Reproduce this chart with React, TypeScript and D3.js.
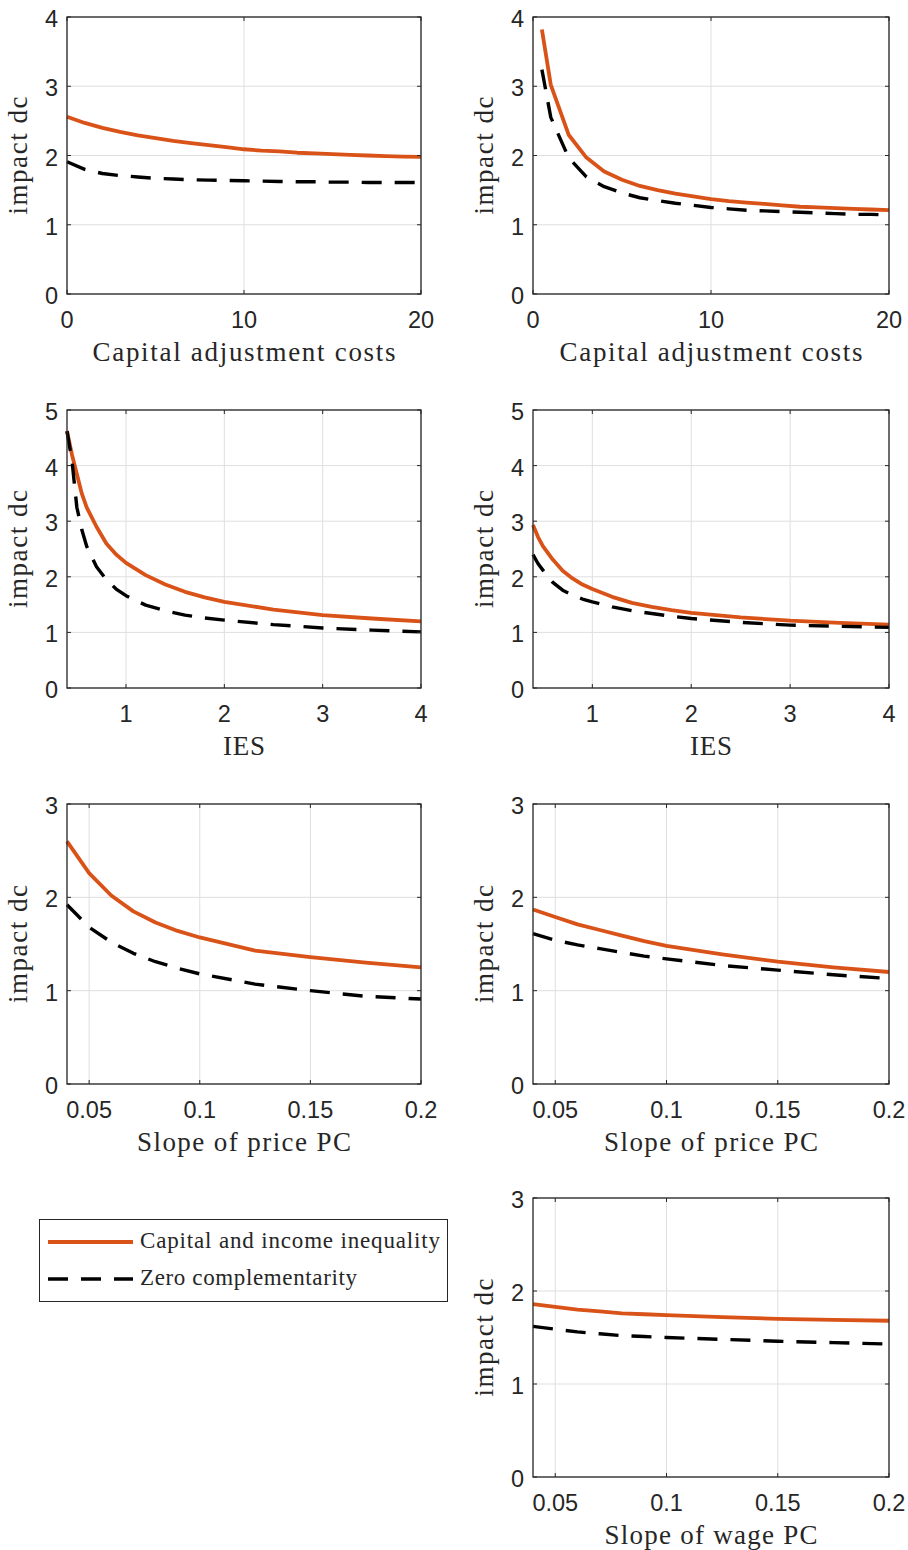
import React, { useEffect, useRef } from "react";
import * as d3 from "d3";

// x grids
const adjCostX = [0, 1, 2, 3, 4, 5, 6, 7, 8, 9, 10, 11, 12, 13, 14, 15, 16, 17, 18, 19, 20];
const adjCostX2 = [0.5, 1, 2, 3, 4, 5, 6, 7, 8, 9, 10, 11, 12, 13, 14, 15, 16, 17, 18, 19, 20];
const iesX = [0.4, 0.45, 0.5, 0.55, 0.6, 0.7, 0.8, 0.9, 1.0, 1.2, 1.4, 1.6, 1.8, 2.0, 2.5, 3.0, 3.5, 4.0];
const slopeX = [0.04, 0.05, 0.06, 0.07, 0.08, 0.09, 0.1, 0.125, 0.15, 0.175, 0.2];

// series: capital and income inequality (orange) / zero complementarity (dashed)
const adjIneqA = [2.56, 2.47, 2.4, 2.34, 2.29, 2.25, 2.21, 2.18, 2.15, 2.12, 2.09, 2.07, 2.06, 2.04, 2.03, 2.02, 2.01, 2.0, 1.99, 1.985, 1.98];
const adjZeroA = [1.91, 1.8, 1.74, 1.71, 1.69, 1.67, 1.66, 1.65, 1.645, 1.64, 1.635, 1.63, 1.625, 1.62, 1.62, 1.615, 1.615, 1.61, 1.61, 1.61, 1.61];
const adjIneqB = [3.82, 3.02, 2.3, 1.97, 1.77, 1.65, 1.56, 1.5, 1.45, 1.41, 1.37, 1.34, 1.32, 1.3, 1.28, 1.26, 1.25, 1.24, 1.23, 1.22, 1.21];
const adjZeroB = [3.24, 2.55, 1.97, 1.69, 1.55, 1.46, 1.39, 1.35, 1.31, 1.28, 1.25, 1.23, 1.21, 1.2, 1.19, 1.18, 1.17, 1.16, 1.15, 1.15, 1.14];
const iesIneqA = [4.62, 4.2, 3.85, 3.5, 3.25, 2.9, 2.6, 2.4, 2.25, 2.03, 1.86, 1.73, 1.63, 1.55, 1.41, 1.31, 1.25, 1.2];
const iesZeroA = [4.62, 4.1, 3.25, 2.85, 2.55, 2.18, 1.95, 1.78, 1.66, 1.49, 1.39, 1.31, 1.26, 1.22, 1.14, 1.08, 1.04, 1.01];
const iesIneqB = [2.93, 2.72, 2.55, 2.43, 2.31, 2.11, 1.97, 1.86, 1.78, 1.64, 1.53, 1.46, 1.4, 1.35, 1.27, 1.21, 1.17, 1.14];
const iesZeroB = [2.4, 2.24, 2.12, 2.0, 1.9, 1.76, 1.67, 1.6, 1.55, 1.46, 1.39, 1.34, 1.29, 1.25, 1.18, 1.13, 1.11, 1.09];
const priceIneqA = [2.6, 2.26, 2.02, 1.85, 1.73, 1.64, 1.57, 1.43, 1.36, 1.3, 1.25];
const priceZeroA = [1.92, 1.68, 1.52, 1.4, 1.31, 1.24, 1.18, 1.07, 1.0, 0.94, 0.91];
const priceIneqB = [1.87, 1.79, 1.71, 1.65, 1.59, 1.53, 1.48, 1.39, 1.31, 1.25, 1.2];
const priceZeroB = [1.61, 1.54, 1.49, 1.45, 1.41, 1.37, 1.34, 1.27, 1.22, 1.17, 1.13];
const wageIneq = [1.86, 1.83, 1.8, 1.78, 1.76, 1.75, 1.74, 1.72, 1.7, 1.69, 1.68];
const wageZero = [1.62, 1.59, 1.56, 1.54, 1.52, 1.51, 1.5, 1.48, 1.46, 1.445, 1.43];

// tick labels
const adjTicks = [0, 10, 20];
const iesTicks = [1, 2, 3, 4];
const slopeTicks = [0.05, 0.1, 0.15, 0.2];

const legendLabels = ["Capital and income inequality", "Zero complementarity"];

const ORANGE = "#D95319";
const AXIS = "#262626";
const GRID = "#dfdfdf";
const SANS = "'Liberation Sans', Arial, Helvetica, sans-serif";
const SERIF = "'Liberation Serif', 'Times New Roman', serif";

const colX = [[67, 421], [533, 889]];
const rowY = [[17, 294], [410, 688], [804, 1084], [1198, 1477]];

const panels = [
  { col: 0, row: 0, x: adjCostX, a: adjIneqA, b: adjZeroA, xd: [0, 20], yMax: 4, ticks: adjTicks, label: "Capital adjustment costs", lw: 303 },
  { col: 1, row: 0, x: adjCostX2, a: adjIneqB, b: adjZeroB, xd: [0, 20], yMax: 4, ticks: adjTicks, label: "Capital adjustment costs", lw: 303 },
  { col: 0, row: 1, x: iesX, a: iesIneqA, b: iesZeroA, xd: [0.4, 4], yMax: 5, ticks: iesTicks, label: "IES", lw: 42 },
  { col: 1, row: 1, x: iesX, a: iesIneqB, b: iesZeroB, xd: [0.4, 4], yMax: 5, ticks: iesTicks, label: "IES", lw: 42 },
  { col: 0, row: 2, x: slopeX, a: priceIneqA, b: priceZeroA, xd: [0.04, 0.2], yMax: 3, ticks: slopeTicks, label: "Slope of price PC", lw: 214 },
  { col: 1, row: 2, x: slopeX, a: priceIneqB, b: priceZeroB, xd: [0.04, 0.2], yMax: 3, ticks: slopeTicks, label: "Slope of price PC", lw: 214 },
  { col: 1, row: 3, x: slopeX, a: wageIneq, b: wageZero, xd: [0.04, 0.2], yMax: 3, ticks: slopeTicks, label: "Slope of wage PC", lw: 213 },
];

export default function App() {
  const ref = useRef<SVGSVGElement>(null);

  useEffect(() => {
    const svg = d3.select(ref.current);
    svg.selectAll("*").remove();

    panels.forEach((p) => {
      const [x0, x1] = colX[p.col];
      const [y0, y1] = rowY[p.row];
      const x = d3.scaleLinear().domain(p.xd).range([x0, x1]);
      const y = d3.scaleLinear().domain([0, p.yMax]).range([y1, y0]);
      const yTicks = d3.range(0, p.yMax + 1);
      const g = svg.append("g");

      // grid
      g.selectAll(".gx").data(p.ticks).join("line")
        .attr("x1", (d) => x(d)).attr("x2", (d) => x(d))
        .attr("y1", y0).attr("y2", y1)
        .attr("stroke", GRID).attr("stroke-width", 1);
      g.selectAll(".gy").data(yTicks).join("line")
        .attr("x1", x0).attr("x2", x1)
        .attr("y1", (d) => y(d)).attr("y2", (d) => y(d))
        .attr("stroke", GRID).attr("stroke-width", 1);

      // lines
      const line = d3.line<number>().x((d, i) => x(p.x[i])).y((d) => y(d));
      g.append("path").attr("d", line(p.a)!)
        .attr("fill", "none").attr("stroke", ORANGE).attr("stroke-width", 3.8)
        .attr("stroke-linejoin", "round");
      g.append("path").attr("d", line(p.b)!)
        .attr("fill", "none").attr("stroke", "#000").attr("stroke-width", 3.4)
        .attr("stroke-dasharray", "20,13").attr("stroke-linejoin", "round");

      // box
      g.append("rect").attr("x", x0).attr("y", y0)
        .attr("width", x1 - x0).attr("height", y1 - y0)
        .attr("fill", "none").attr("stroke", AXIS).attr("stroke-width", 1.3);

      // ticks inside, all four sides
      const tl = 4;
      p.ticks.forEach((t) => {
        g.append("line").attr("x1", x(t)).attr("x2", x(t)).attr("y1", y1).attr("y2", y1 - tl).attr("stroke", AXIS);
        g.append("line").attr("x1", x(t)).attr("x2", x(t)).attr("y1", y0).attr("y2", y0 + tl).attr("stroke", AXIS);
      });
      yTicks.forEach((t) => {
        g.append("line").attr("x1", x0).attr("x2", x0 + tl).attr("y1", y(t)).attr("y2", y(t)).attr("stroke", AXIS);
        g.append("line").attr("x1", x1).attr("x2", x1 - tl).attr("y1", y(t)).attr("y2", y(t)).attr("stroke", AXIS);
      });

      // tick labels
      g.selectAll(".xl").data(p.ticks).join("text")
        .attr("x", (d) => x(d)).attr("y", y1 + 34)
        .attr("text-anchor", "middle")
        .attr("font-family", SANS).attr("font-size", 23.5).attr("fill", AXIS)
        .text((d) => String(d));
      g.selectAll(".yl").data(yTicks).join("text")
        .attr("x", x0 - 9).attr("y", (d) => y(d) + 10)
        .attr("text-anchor", "end")
        .attr("font-family", SANS).attr("font-size", 23.5).attr("fill", AXIS)
        .text((d) => String(d));

      // axis labels
      g.append("text")
        .attr("x", (x0 + x1) / 2).attr("y", y1 + 67)
        .attr("text-anchor", "middle")
        .attr("font-family", SERIF).attr("font-size", 27).attr("fill", AXIS)
        .attr("textLength", p.lw).attr("lengthAdjust", "spacing")
        .text(p.label);
      g.append("text")
        .attr("transform", `translate(${x0 - 40},${(y0 + y1) / 2}) rotate(-90)`)
        .attr("text-anchor", "middle")
        .attr("font-family", SERIF).attr("font-size", 27).attr("fill", AXIS)
        .attr("textLength", 118).attr("lengthAdjust", "spacing")
        .text("impact dc");
    });

    // legend
    const lg = svg.append("g");
    lg.append("rect").attr("x", 39.5).attr("y", 1219.5).attr("width", 408).attr("height", 82)
      .attr("fill", "#fff").attr("stroke", AXIS).attr("stroke-width", 1);
    const rows = [
      { y: 1242, color: ORANGE, dash: null, w: 3.8, tl: 300 },
      { y: 1279, color: "#000", dash: "20,13", w: 3.4, tl: 217 },
    ];
    rows.forEach((r, i) => {
      lg.append("line").attr("x1", 48).attr("x2", 133).attr("y1", r.y).attr("y2", r.y)
        .attr("stroke", r.color).attr("stroke-width", r.w)
        .attr("stroke-dasharray", r.dash);
      lg.append("text").attr("x", 140).attr("y", r.y + 6)
        .attr("font-family", SERIF).attr("font-size", 23).attr("fill", AXIS)
        .attr("textLength", r.tl).attr("lengthAdjust", "spacing")
        .text(legendLabels[i]);
    });
  }, []);

  return (
    <svg
      ref={ref}
      width={908}
      height={1550}
      style={{ position: "absolute", left: 0, top: 0, background: "#fff" }}
    />
  );
}
